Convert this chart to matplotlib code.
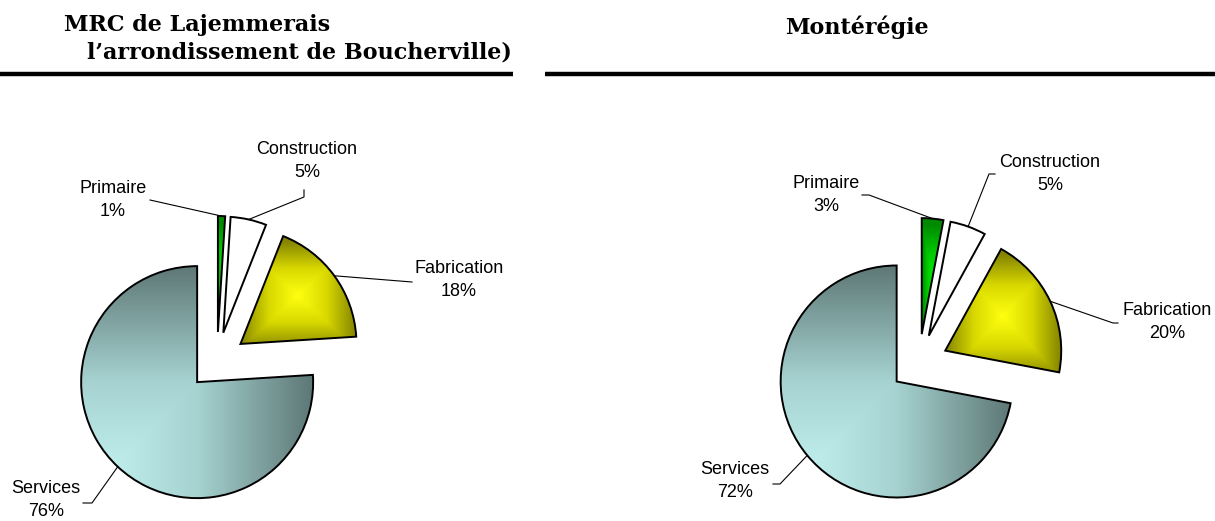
import matplotlib
matplotlib.use("Agg")
import matplotlib.pyplot as plt
import numpy as np
from matplotlib.colors import LinearSegmentedColormap

W, H = 1215, 521

# data (percent of jobs by sector)
categories = ['Primaire', 'Construction', 'Fabrication', 'Services']
lajemmerais = [1, 5, 18, 76]
monteregie = [3, 5, 20, 72]

# the second line is clipped by the page edge in the original; keep the visible part
titles_left = ['MRC de Lajemmerais', "l\u2019arrondissement de Boucherville)"]
title_right = 'Mont\u00e9r\u00e9gie'

# layout in pixels (y measured from top)
pie_left = (217, 361)
pie_right = (919, 363)
radius = 116
explode = [0.25, 0.25, 0.25, 0.25]  # fraction of radius

# label centre and leader elbows for each slice
labels_left = [
    ((113, 200), [(150, 200)]),
    ((307, 161), [(304, 190), (304, 197)]),
    ((459, 280), [(412, 282)]),
    ((46, 500), [(83, 503), (92, 503)]),
]
labels_right = [
    ((826, 195), [(862, 195), (869, 195)]),
    ((1050, 174), [(995, 174), (989, 174)]),
    ((1167, 322), [(1118, 323), (1113, 323)]),
    ((735, 481), [(773, 484), (780, 484)]),
]

fig = plt.figure(figsize=(W / 100, H / 100), dpi=100)
ax = fig.add_axes([0, 0, 1, 1])


def fy(y):
    return H - y


services_cmap = LinearSegmentedColormap.from_list('serv', ['#c8f7f5', '#a6d3d1', '#5e7876'])
fab_cmap = LinearSegmentedColormap.from_list('fab', ['#ffff10', '#d8d800', '#858500'])
prim_cmap = LinearSegmentedColormap.from_list('prim', ['#00f000', '#00c800', '#008a00'])


def fill_gradient(w, cmap, mode):
    x0, y0, x1, y1 = w.get_path().get_extents().extents
    gx, gy = np.meshgrid(np.linspace(0, 1, 200), np.linspace(0, 1, 200))
    if mode == 'corner':  # light at bottom-left corner
        g = np.maximum(gx, gy)
    else:  # from centre
        g = np.maximum(np.abs(gx - 0.5), np.abs(gy - 0.45)) * 2
    im = ax.imshow(g, cmap=cmap, origin='lower', extent=[x0, x1, y0, y1],
                   zorder=0.5, vmin=0, vmax=1, interpolation='bilinear')
    im.set_clip_path(w)
    w.set_facecolor('none')


def draw_pie(vals, centre, labels):
    wedges, _ = ax.pie(vals, explode=[e * radius for e in explode], startangle=90,
                       counterclock=False, radius=radius,
                       center=(centre[0], fy(centre[1])),
                       colors=['#00c000', 'white', '#ffff00', '#a0d0d0'],
                       wedgeprops=dict(edgecolor='black', linewidth=1.4),
                       frame=True)
    fill_gradient(wedges[0], prim_cmap, 'center')
    fill_gradient(wedges[2], fab_cmap, 'center')
    fill_gradient(wedges[3], services_cmap, 'corner')
    for w, cat, v, (pos, elbow) in zip(wedges, categories, vals, labels):
        a = np.deg2rad((w.theta1 + w.theta2) / 2)
        px = w.center[0] + w.r * np.cos(a)
        py = w.center[1] + w.r * np.sin(a)
        xs = [p[0] for p in elbow] + [px]
        ys = [fy(p[1]) for p in elbow] + [py]
        ax.plot(xs, ys, color='black', lw=0.8, zorder=2)
        ax.text(pos[0], fy(pos[1]), f'{cat}\n{v}%', ha='center', va='center',
                fontsize=13, family='Liberation Sans', linespacing=1.5)


draw_pie(lajemmerais, pie_left, labels_left)
draw_pie(monteregie, pie_right, labels_right)

# titles and rules
tfont = dict(family='DejaVu Serif', fontweight='bold', fontsize=16)
ax.text(197, fy(25), titles_left[0], ha='center', va='center', **tfont)
ax.text(512, fy(53), titles_left[1], ha='right', va='center', **tfont)
ax.text(857, fy(27), title_right, ha='center', va='center', **tfont)
ax.plot([0, 513], [fy(74), fy(74)], color='black', lw=3.2, solid_capstyle='butt')
ax.plot([545, W], [fy(74), fy(74)], color='black', lw=3.2, solid_capstyle='butt')

ax.set_xlim(0, W)
ax.set_ylim(0, H)
ax.set_aspect('auto')
ax.axis('off')

fig.savefig('out.png', dpi=100)
